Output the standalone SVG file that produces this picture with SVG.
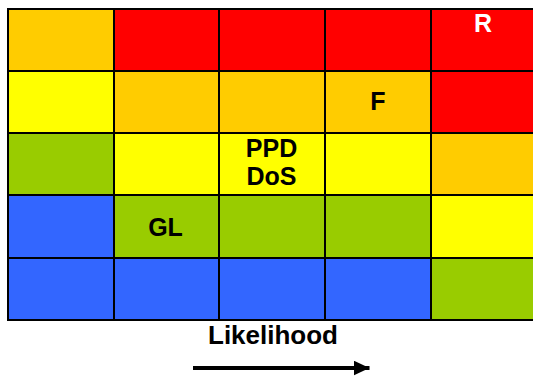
<svg xmlns="http://www.w3.org/2000/svg" width="533" height="378" viewBox="0 0 533 378">
<defs>
<style>
.c{stroke:#000;stroke-width:2}
.o{fill:#FFCC00}.r{fill:#FF0000}.y{fill:#FFFF00}.g{fill:#99CC00}.b{fill:#3366FF}
.t{font-family:"Liberation Sans",Arial,sans-serif;font-weight:bold;font-size:25px;text-anchor:middle;fill:#000}
.w{fill:#FFFFFF}
</style>
<marker id="ah" markerWidth="16" markerHeight="15" refX="16" refY="7.5" orient="auto" markerUnits="userSpaceOnUse">
<path d="M0,0 L16,7.5 L0,15 Z" fill="#000"/>
</marker>
</defs>
<rect width="533" height="378" fill="#fff"/>
<g id="grid">
<rect class="c o" x="8" y="9" width="106" height="62"/>
<rect class="c r" x="114" y="9" width="105" height="62"/>
<rect class="c r" x="219" y="9" width="106" height="62"/>
<rect class="c r" x="325" y="9" width="106" height="62"/>
<rect class="c r" x="431" y="9" width="106" height="62"/>

<rect class="c y" x="8" y="71" width="106" height="62"/>
<rect class="c o" x="114" y="71" width="105" height="62"/>
<rect class="c o" x="219" y="71" width="106" height="62"/>
<rect class="c o" x="325" y="71" width="106" height="62"/>
<rect class="c r" x="431" y="71" width="106" height="62"/>

<rect class="c g" x="8" y="133" width="106" height="62"/>
<rect class="c y" x="114" y="133" width="105" height="62"/>
<rect class="c y" x="219" y="133" width="106" height="62"/>
<rect class="c y" x="325" y="133" width="106" height="62"/>
<rect class="c o" x="431" y="133" width="106" height="62"/>

<rect class="c b" x="8" y="195" width="106" height="63"/>
<rect class="c g" x="114" y="195" width="105" height="63"/>
<rect class="c g" x="219" y="195" width="106" height="63"/>
<rect class="c g" x="325" y="195" width="106" height="63"/>
<rect class="c y" x="431" y="195" width="106" height="63"/>

<rect class="c b" x="8" y="258" width="106" height="62"/>
<rect class="c b" x="114" y="258" width="105" height="62"/>
<rect class="c b" x="219" y="258" width="106" height="62"/>
<rect class="c b" x="325" y="258" width="106" height="62"/>
<rect class="c g" x="431" y="258" width="106" height="62"/>
</g>
<g id="node-R"><text class="t w" x="483" y="32">R</text></g>
<g id="node-F"><text class="t" x="378" y="109.5">F</text></g>
<g id="node-PPD"><text class="t" x="271.5" y="157">PPD</text><text class="t" x="271.5" y="185">DoS</text></g>
<g id="node-GL"><text class="t" x="165.5" y="235.5">GL</text></g>
<g id="label"><text class="t" x="273" y="344" style="font-size:26px">Likelihood</text></g>
<g id="connectors">
<line x1="193" y1="368" x2="369.5" y2="368" stroke="#000" stroke-width="4" marker-end="url(#ah)"/>
</g>
</svg>
